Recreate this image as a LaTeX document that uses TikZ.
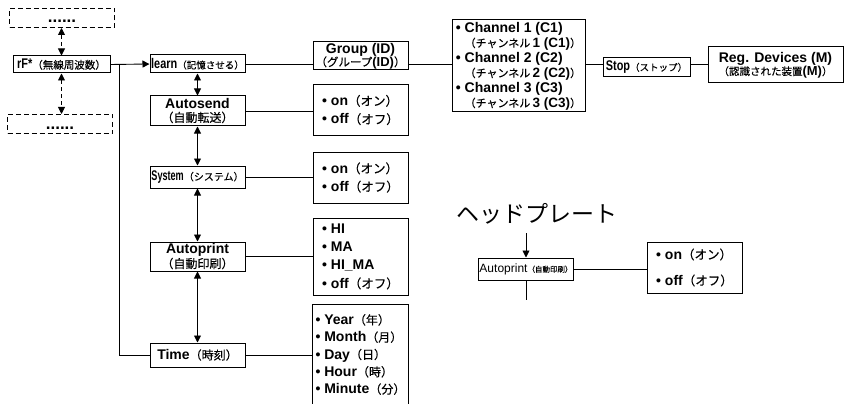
\documentclass[tikz,border=0pt]{standalone}
\usepackage{fontspec}
\setmainfont{Liberation Sans}
\newfontfamily\jp[FakeBold=0.3]{Noto Sans CJK JP}
\newfontfamily\jphead{Noto Sans CJK JP}
\newfontfamily\cond[FakeStretch=0.78]{Liberation Sans}
\newfontfamily\condx[FakeStretch=0.65]{Liberation Sans}
\usepackage{tikz}
\usetikzlibrary{arrows.meta,calc}

% Japanese text in the boxes, optional size
\newcommand{\jt}[2][12]{{\jp\mdseries\fontsize{#1}{#1}\selectfont #2}}

\begin{document}
\begin{tikzpicture}[
        x=1pt, y=-1pt,
        >={Triangle[length=7pt,width=7pt]},
        line width=0.9pt,
        box/.style={draw,line width=1pt,inner sep=0pt,align=center,minimum width=95pt},
        main/.style={font=\fontsize{14}{13}\selectfont\bfseries},
        small/.style={font=\cond\fontsize{14}{12}\selectfont\bfseries},
        opts/.style={box,align=left,font=\fontsize{14}{18.3}\selectfont\bfseries},
        dbox/.style={draw,line width=1pt,dash pattern=on 5pt off 3pt,minimum width=105pt,minimum height=19pt,
                     font=\fontsize{17}{12}\selectfont\bfseries,text height=10pt,text depth=0pt}
      ]
        \useasboundingbox (0,0) rectangle (847,404);
        % left column
        \node[dbox] (dtop) at (62,18) {......};
        \node[box,small,minimum width=97pt,minimum height=17pt] (rf) at (61.5,64.5) {rF*\jt[10.5]{（無線周波数）}};
        \node[dbox] (dbot) at (60,124) {......};
        \coordinate (jn) at (119,64.5);
        % menu column
        \node[box,small,minimum height=18pt] (learn)    at (197.5,64)  {learn\jt[9.5]{（記憶させる）}};
        \node[box,main,minimum height=30pt]  (autosend) at (197.5,111) {Autosend\\\jt{（自動転送）}};
        \node[box,small,minimum height=22pt] (system)   at (197.5,177) {{\condx System}\jt[10]{（システム）}};
        \node[box,main,minimum height=29pt]  (autoprint) at (197.5,256.5) {Autoprint\\\jt{（自動印刷）}};
        \node[box,main,minimum height=24pt]  (time)     at (197.5,355) {Time\jt{（時刻）}};
        % top row
        \node[box,main,minimum height=28pt] (group) at (360.5,56) {Group (ID)\\{\jt[11.5]{（グループ}\fontsize{13}{13}\selectfont(ID)\jt[11.5]{）}}};
        \node[box,align=left,font=\fontsize{14}{15}\selectfont\bfseries,minimum width=133pt,minimum height=92pt] (chan) at (518.5,66)
          {• Channel 1 (C1)\\\phantom{• }\jt[11]{（チャンネル}{\fontsize{13.5}{13}\selectfont\,1 (C1)}\jt[11]{）}\\
           • Channel 2 (C2)\\\phantom{• }\jt[11]{（チャンネル}{\fontsize{13.5}{13}\selectfont\,2 (C2)}\jt[11]{）}\\
           • Channel 3 (C3)\\\phantom{• }\jt[11]{（チャンネル}{\fontsize{13.5}{13}\selectfont\,3 (C3)}\jt[11]{）}};
        \node[box,small,minimum width=87pt,minimum height=19pt] (stop) at (646.5,67.5) {Stop\jt[9.5]{（ストップ）}};
        \node[box,main,minimum width=135pt,minimum height=36pt] (reg) at (775.5,65)
          {Reg. Devices (M)\\{\jt[10.5]{（認識された装置}\fontsize{13}{13}\selectfont(M)\jt[10.5]{）}}};
        % option boxes
        \node[opts,minimum height=50pt] (opt1) at (360.5,110)   {• on\jt[12.5]{（オン）}\\• off\jt[12.5]{（オフ）}};
        \node[opts,minimum height=51pt] (opt2) at (360.5,177.5) {• on\jt[12.5]{（オン）}\\• off\jt[12.5]{（オフ）}};
        \node[opts,minimum height=77pt] (opt3) at (360.5,256.5) {• HI\\• MA\\• HI\_MA\\• off\jt[12.5]{（オフ）}};
        \node[opts,draw=none,font=\fontsize{14}{17.3}\selectfont\bfseries,minimum height=99pt] (opt4) at (360.5,354.5)
          {• Year\jt{（年）}\\• Month\jt{（月）}\\• Day\jt{（日）}\\• Hour\jt{（時）}\\• Minute\jt{（分）}};
        \draw[line width=1pt] (opt4.south west) -- (opt4.north west) -- (opt4.north east) -- (opt4.south east);
        % head plate
        \node[font=\jphead\fontsize{23}{23}\selectfont] (hptitle) at (537,214) {ヘッドプレート};
        \coordinate (hpin)  at (526,233);
        \coordinate (hpout) at (526,300);
        \node[box,font=\fontsize{12}{12}\selectfont,minimum height=22pt] (ap2) at (526,269) {Autoprint\jt[7.5]{（自動印刷）}};
        \node[opts,font=\fontsize{14}{26}\selectfont\bfseries,minimum height=51pt] (hpopt) at (694.5,267.5) {• on\jt[12.5]{（オン）}\\• off\jt[12.5]{（オフ）}};
        % connectors
        \draw[<->,dash pattern=on 4pt off 3pt] (dtop.south -| rf) -- (rf.north);
        \draw[<->,dash pattern=on 4pt off 3pt] (rf.south) -- (dbot.north -| rf);
        \draw[->] (rf.east) -- (learn.west);
        \draw (jn) |- (time.west);
        \draw (learn.east) -- (learn.east -| group.west);
        \draw (learn.east -| group.east) -- (learn.east -| chan.west);
        \draw (learn.east -| chan.east) -- (learn.east -| stop.west);
        \draw (learn.east -| stop.east) -- (learn.east -| reg.west);
        \draw[<->] (learn) -- (autosend);
        \draw[<->] (autosend) -- (system);
        \draw[<->] (system) -- (autoprint);
        \draw[<->] (autoprint) -- (time);
        \draw (autosend.east) -- (autosend.east -| opt1.west);
        \draw (system.east) -- (system.east -| opt2.west);
        \draw (autoprint.east) -- (autoprint.east -| opt3.west);
        \draw (time.east) -- (time.east -| opt4.west);
        \draw[->] (hpin) -- (ap2.north);
        \draw (ap2.south) -- (hpout);
        \draw (ap2.east) -- (ap2.east -| hpopt.west);
\end{tikzpicture}
\end{document}
